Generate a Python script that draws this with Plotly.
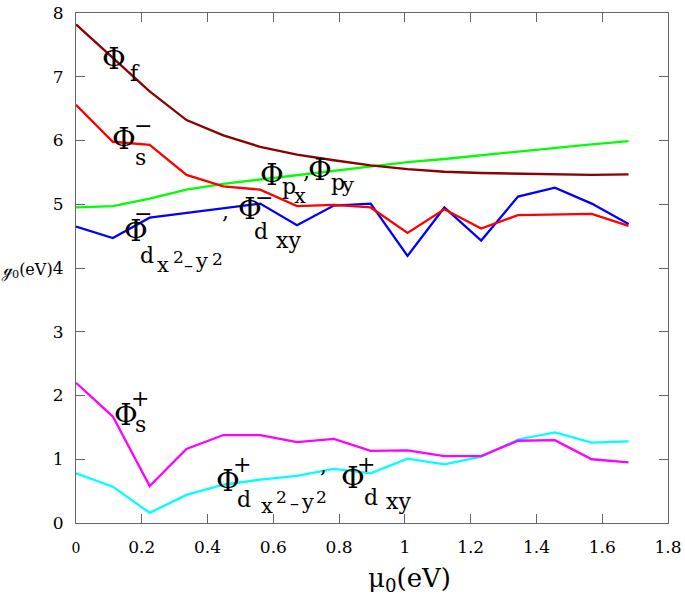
import plotly.graph_objects as go

# ---------------- data ----------------
mu0 = [0, 0.112, 0.224, 0.336, 0.448, 0.56, 0.672, 0.784, 0.896, 1.008,
       1.12, 1.232, 1.344, 1.456, 1.568, 1.68]
phi_f = [7.82, 7.30, 6.77, 6.32, 6.08, 5.90, 5.78, 5.69, 5.61, 5.55,
         5.51, 5.49, 5.48, 5.47, 5.46, 5.47]
phi_s_minus = [6.56, 5.98, 5.93, 5.46, 5.28, 5.23, 4.97, 4.99, 4.95, 4.55,
               4.92, 4.62, 4.83, 4.84, 4.85, 4.66]
phi_p = [4.95, 4.97, 5.09, 5.23, 5.32, 5.39, 5.46, 5.52, 5.60, 5.66,
         5.71, 5.77, 5.83, 5.88, 5.94, 5.99]
phi_d_minus = [4.65, 4.47, 4.79, 4.86, 4.94, 5.01, 4.67, 4.98, 5.01, 4.19,
               4.95, 4.43, 5.12, 5.26, 5.01, 4.69]
phi_s_plus = [2.20, 1.67, 0.58, 1.16, 1.38, 1.38, 1.27, 1.32, 1.13, 1.14,
              1.05, 1.05, 1.29, 1.30, 1.00, 0.95]
phi_d_plus = [0.78, 0.57, 0.16, 0.44, 0.60, 0.68, 0.74, 0.85, 0.78, 1.01,
              0.92, 1.04, 1.31, 1.42, 1.26, 1.28]

x_ticks = [0, 0.2, 0.4, 0.6, 0.8, 1, 1.2, 1.4, 1.6, 1.8]
x_ticktext = ["<span style='font-size:14px'>0</span>", "0.2", "0.4", "0.6", "0.8",
              "1", "1.2", "1.4", "1.6", "1.8"]
y_ticks = [0, 1, 2, 3, 4, 5, 6, 7, 8]

series = [
    (phi_p, "#00ff00"),
    (phi_d_minus, "#0000ff"),
    (phi_s_minus, "#ff0000"),
    (phi_f, "#8b0000"),
    (phi_d_plus, "#00ffff"),
    (phi_s_plus, "#ff00ff"),
]

W, H = 685, 605
L, R, T, B = 76, 15, 3, 82
PW, PH = W - L - R, H - T - B
FONT = "DejaVu Serif"

fig = go.Figure()
for ys, col in series:
    fig.add_trace(go.Scatter(x=mu0, y=ys, mode="lines",
                             line=dict(color=col, width=2.3),
                             showlegend=False, hoverinfo="skip"))

anns = []


def lab(text, left, baseline, size):
    """text with its left edge at px `left`, baseline at px `baseline`"""
    mid = baseline - 0.346 * size
    anns.append(dict(text=text, xref="paper", yref="paper",
                     x=(left - L) / PW, y=(H - B - mid) / PH,
                     xanchor="left", yanchor="middle", showarrow=False,
                     font=dict(family=FONT, size=size, color="black"),
                     borderpad=0, borderwidth=0))


def cen(text, cx, cy, size):
    anns.append(dict(text=text, xref="paper", yref="paper",
                     x=(cx - L) / PW, y=(H - B - cy) / PH,
                     xanchor="center", yanchor="middle", showarrow=False,
                     font=dict(family=FONT, size=size, color="black"),
                     borderpad=0, borderwidth=0))


PHI, SUB, SS, SUP2, DASH = 29, 22, 21, 17, 18

# Phi_f
lab("Φ", 102, 60, PHI)
lab("f", 130, 72, SUB)
# Phi_s^-
lab("Φ", 112, 142, PHI)
cen("−", 143, 118, SUB)
lab("s", 135, 158, SUB)
# Phi_px , Phi_py
lab("Φ", 261, 178, PHI)
lab("p", 283, 188, SUB)
lab("x", 295, 197, SS)
lab(",", 304, 172, SUB)
lab("Φ", 309, 173, PHI)
lab("p", 332, 183, SUB)
lab("y", 342, 186, SS)
# Phi^-_{dx2-y2} , Phi^-_{dxy}
lab("Φ", 124, 235, PHI)
cen("−", 143, 207, SUB)
lab("d", 140, 258, SUB)
lab("x", 157, 267, SS)
lab("2", 173, 258, SUP2)
cen("–", 189, 260, DASH)
lab("y", 195, 263, SS)
lab("2", 212, 260, SUP2)
lab(",", 222, 213, SUB)
lab("Φ", 239, 213, PHI)
cen("−", 265, 191, SUB)
lab("d", 255, 233, SUB)
lab("xy", 277, 243, SUB)
# Phi_s^+
lab("Φ", 114, 423, PHI)
cen("+", 140, 396, SUB)
lab("s", 135, 430, SUB)
# Phi^+_{dx2-y2} , Phi^+_{dxy}
lab("Φ", 216, 490, PHI)
cen("+", 243, 463, SUB)
lab("d", 238, 507, SUB)
lab("x", 262, 513, SS)
lab("2", 277, 502, SUP2)
cen("–", 295, 503, DASH)
lab("y", 302, 509, SS)
lab("2", 317, 502, SUP2)
lab(",", 321, 472, SUB)
lab("Φ", 342, 487, PHI)
cen("+", 367, 463, SUB)
lab("d", 365, 505, SUB)
lab("xy", 387, 509, SUB)

# axis titles
lab("μ<sub>0</sub>(eV)", 369, 590, 26)
lab("ℊ<sub>0</sub>(eV)", 1, 272, 16)

axis_common = dict(showline=True, linecolor="#666666", linewidth=1,
                   mirror="ticks", ticks="inside", ticklen=9,
                   tickcolor="#666666", showgrid=False, zeroline=False,
                   ticklabeloverflow="allow",
                   tickfont=dict(family=FONT, size=17, color="black"))

fig.update_layout(
    width=W, height=H,
    margin=dict(l=L, r=R, t=T, b=B, pad=0),
    plot_bgcolor="white", paper_bgcolor="white",
    font=dict(family=FONT),
    xaxis=dict(range=[0, 1.8], tickvals=x_ticks, ticktext=x_ticktext,
               ticklabelstandoff=9, **axis_common),
    yaxis=dict(range=[0, 8], tickvals=y_ticks, ticklabelstandoff=8,
               **axis_common),
    annotations=anns,
)

fig.write_html(
    "out.html",
    config={"displayModeBar": False},
    post_script="document.body.style.margin='0';document.body.style.overflow='hidden';",
)
